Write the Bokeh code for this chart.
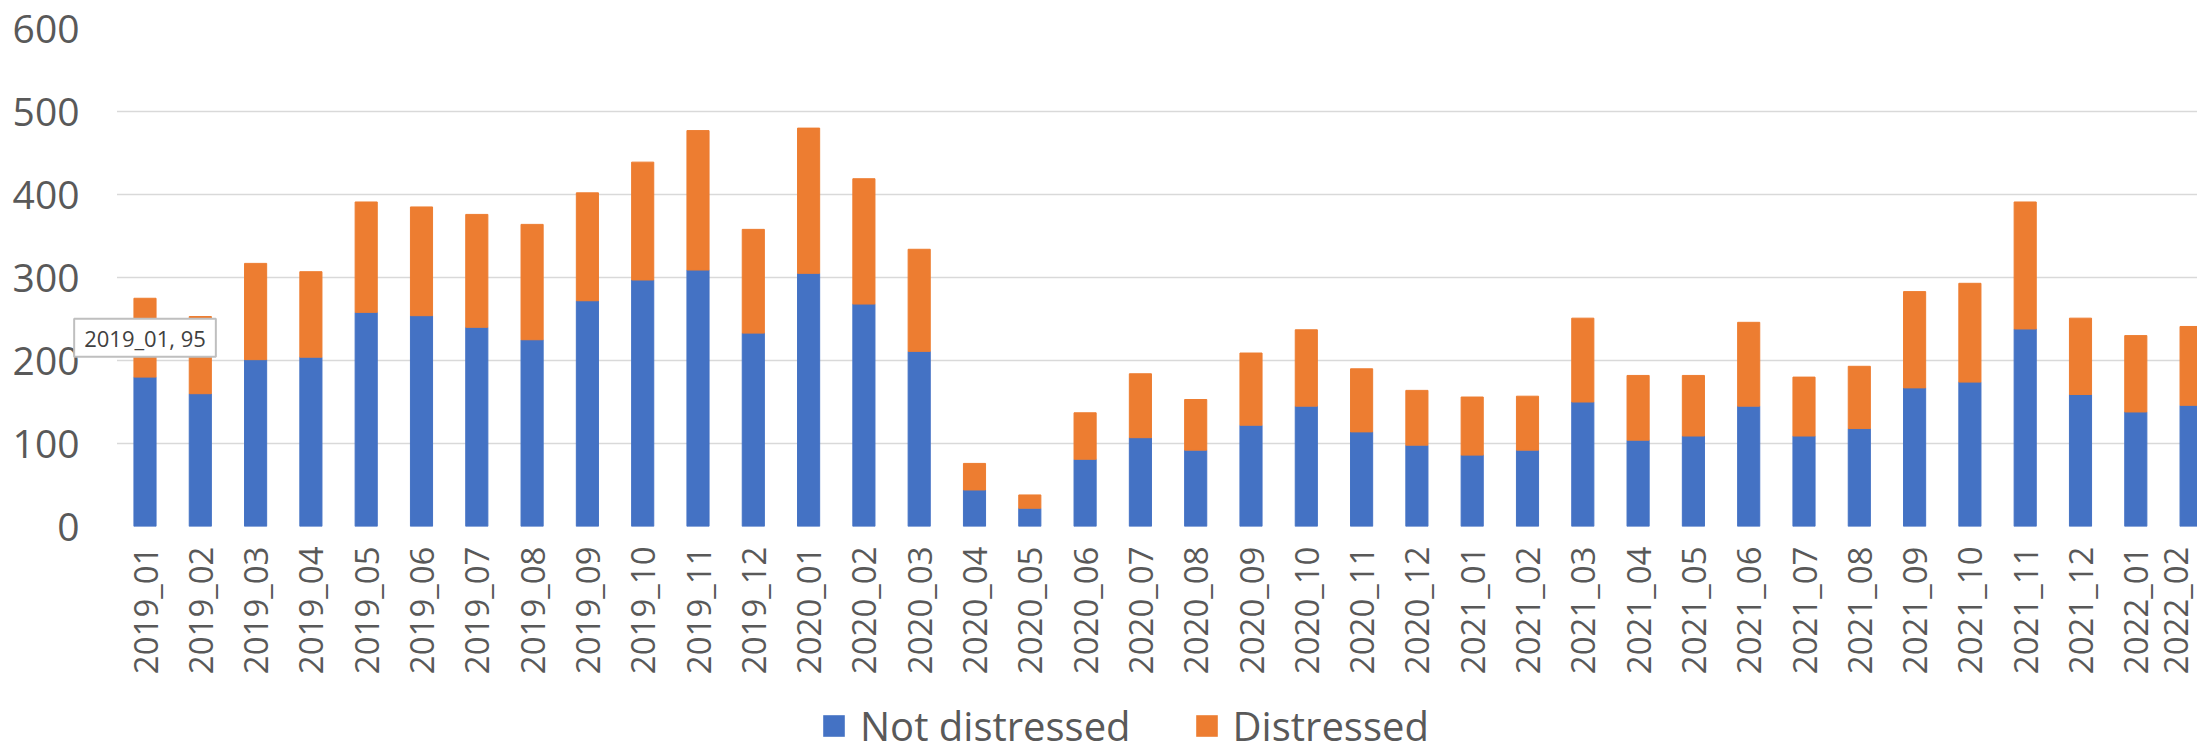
from bokeh.plotting import figure
from bokeh.models import (ColumnDataSource, Range1d, FixedTicker, Label,
                          BoxAnnotation, Legend, LegendItem)
from bokeh.layouts import column
from bokeh.embed import file_html
from bokeh.resources import INLINE
import math

months = ["2019_01", "2019_02", "2019_03", "2019_04", "2019_05", "2019_06",
          "2019_07", "2019_08", "2019_09", "2019_10", "2019_11", "2019_12",
          "2020_01", "2020_02", "2020_03", "2020_04", "2020_05", "2020_06",
          "2020_07", "2020_08", "2020_09", "2020_10", "2020_11", "2020_12",
          "2021_01", "2021_02", "2021_03", "2021_04", "2021_05", "2021_06",
          "2021_07", "2021_08", "2021_09", "2021_10", "2021_11", "2021_12",
          "2022_01", "2022_02"]
not_distressed = [180, 160, 201, 204, 258, 254, 240, 225, 272, 297, 309, 233,
                  305, 268, 211, 44, 22, 81, 107, 92, 122, 145, 114, 98,
                  86, 92, 150, 104, 109, 145, 109, 118, 167, 174, 238, 159,
                  138, 146]
distressed = [95, 93, 116, 103, 133, 131, 136, 139, 130, 142, 168, 125,
              175, 151, 123, 32, 16, 56, 77, 61, 87, 92, 76, 66,
              70, 65, 101, 78, 73, 101, 71, 75, 116, 119, 153, 92,
              92, 95]
y_ticks = [0, 100, 200, 300, 400, 500, 600]
series_names = ["Not distressed", "Distressed"]
series_colors = ["#4472C4", "#ED7D31"]

FONT = "Open Sans"
TEXT_COLOR = "#595959"
GRID = "#D9D9D9"

# layout (pixels / category units)
W = 2197
FRAME_LEFT = 60
SLOT = 55.3            # pixels per category
FIRST_CENTER = 144.5   # pixel x of first category
x_start = -(FIRST_CENTER - FRAME_LEFT) / SLOT
x_end = (W - FIRST_CENTER) / SLOT
plot_left = -0.506     # left edge of the plot area (category units)

xs = list(range(len(months)))
src = ColumnDataSource(dict(x=xs, nd=not_distressed, d=distressed))

p = figure(width=W, height=690, output_backend="svg", toolbar_location=None,
           x_range=Range1d(x_start, x_end), y_range=Range1d(0, 600))
p.min_border_left = FRAME_LEFT
p.min_border_right = 0
p.min_border_top = 28
p.min_border_bottom = 164
p.outline_line_color = None
p.background_fill_color = "white"
p.border_fill_color = "white"

p.xgrid.grid_line_color = None
p.ygrid.grid_line_color = GRID
p.ygrid.grid_line_width = 1.5

# blank the area left of the plot area (where y labels / tooltip sit)
p.add_layout(BoxAnnotation(right=plot_left, fill_color="white", fill_alpha=1,
                           line_color=None, level="underlay"))

p.vbar_stack(["nd", "d"], x="x", width=0.4, color=series_colors, source=src)

# axes
p.xaxis.ticker = FixedTicker(ticks=xs)
p.xaxis.major_label_overrides = {i: m for i, m in zip(xs, months)}
p.xaxis.major_label_orientation = math.pi / 2
p.xaxis.major_label_text_font = FONT
p.xaxis.major_label_text_font_size = "33px"
p.xaxis.major_label_text_color = TEXT_COLOR
p.xaxis.major_label_standoff = 14
p.xaxis.major_tick_line_color = None
p.xaxis.minor_tick_line_color = None
p.xaxis.axis_line_color = None

p.yaxis.ticker = FixedTicker(ticks=y_ticks)
p.yaxis.major_label_text_font = FONT
p.yaxis.major_label_text_font_size = "39px"
p.yaxis.major_label_text_color = TEXT_COLOR
p.yaxis.major_label_standoff = -25
p.yaxis.major_tick_line_color = None
p.yaxis.minor_tick_line_color = None
p.yaxis.axis_line_color = None

# data tooltip on first distressed segment
tip = Label(x=xs[0], y=not_distressed[0] + distressed[0] / 2,
            text=f"{months[0]}, {distressed[0]}",
            text_font=FONT, text_font_size="22px", text_color="#404040",
            text_align="center", text_baseline="middle",
            background_fill_color="white", border_line_color="#BFBFBF",
            border_line_width=2, padding=(10, 4))
p.add_layout(tip)

# legend strip
lf = figure(width=W, height=64, output_backend="svg", toolbar_location=None,
            x_range=Range1d(0, 1), y_range=Range1d(0, 1))
lf.min_border_left = lf.min_border_right = 0
lf.min_border_top = lf.min_border_bottom = 0
lf.outline_line_color = None
lf.axis.visible = False
lf.grid.grid_line_color = None
items = []
for name, col in zip(series_names, series_colors):
    swatch = ColumnDataSource(dict(x=[0.5], top=[0]))   # zero-height swatch bar
    r = lf.vbar(x="x", top="top", width=0.4, color=col, source=swatch,
                line_color=None)
    items.append(LegendItem(label=name, renderers=[r]))
lg = Legend(items=items, orientation="horizontal", location=(760, 1),
            glyph_width=27, glyph_height=27, label_text_font=FONT,
            label_text_font_size="40px", label_text_color=TEXT_COLOR,
            label_standoff=13, spacing=62, padding=0, margin=0,
            border_line_color=None, background_fill_alpha=0)
lf.add_layout(lg)

layout = column(p, lf, spacing=0)
open("out.html", "w").write(file_html(layout, INLINE))
